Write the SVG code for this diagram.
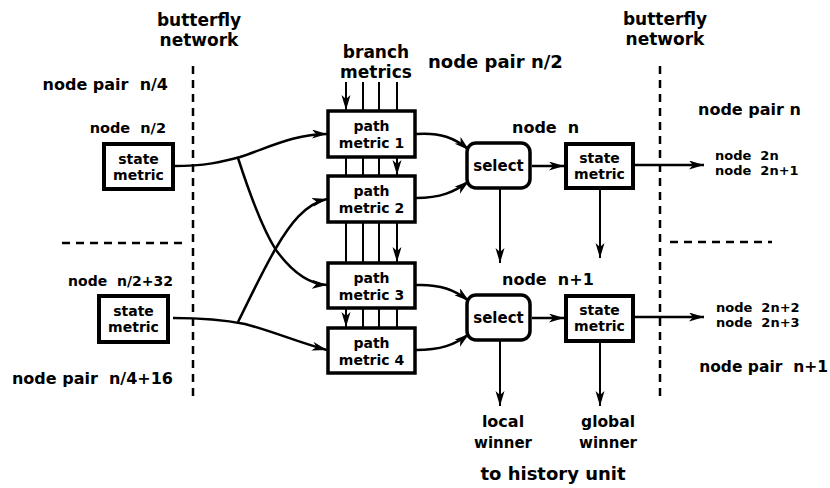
<svg xmlns="http://www.w3.org/2000/svg" width="830" height="488" viewBox="0 0 830 488">
<style>
text{font-family:"DejaVu Sans","Liberation Sans",sans-serif;font-weight:bold;fill:#000;white-space:pre}
.big{font-size:18px}
.lbl{font-size:16px}
.sm{font-size:14px}
.bx{font-size:14px;text-anchor:middle}
.sm2{font-size:13px}
.mid{text-anchor:middle}
.end{text-anchor:end}
.sbox{fill:#fff;stroke:#000;stroke-width:4}
.pbox{fill:#fff;stroke:#000;stroke-width:3.5}
.sel{fill:#fff;stroke:#000;stroke-width:3.5}
.c{fill:none;stroke:#000;stroke-width:2.5}
.v{fill:none;stroke:#000;stroke-width:2}
.a{marker-end:url(#ah)}
.dash{fill:none;stroke:#000;stroke-width:2.5;stroke-dasharray:8 6}
</style>
<defs>
<marker id="ah" markerUnits="userSpaceOnUse" markerWidth="16" markerHeight="10" refX="15" refY="4.5" orient="auto">
<path d="M0,0 L15,4.5 L0,9 L4,4.5 z" fill="#000"/>
</marker>
</defs>

<g id="dividers">
<line class="dash" x1="193" y1="66" x2="193" y2="402"/>
<line class="dash" x1="660" y1="66" x2="660" y2="402"/>
<line class="dash" x1="62" y1="243" x2="183" y2="243"/>
<line class="dash" x1="670" y1="242" x2="772" y2="242"/>
</g>

<g id="labels">
<text class="big mid" x="199" y="26" style="font-size:17px">butterfly</text>
<text class="big mid" x="199" y="46" style="font-size:17px">network</text>
<text class="big mid" x="665" y="25" style="font-size:17px">butterfly</text>
<text class="big mid" x="665" y="45" style="font-size:17px">network</text>
<text xml:space="preserve" class="lbl end" x="168" y="90">node pair  n/4</text>
<text xml:space="preserve" class="sm end" x="166" y="133" style="font-size:14.5px">node  n/2</text>
<text xml:space="preserve" class="sm end" x="173" y="286">node  n/2+32</text>
<text xml:space="preserve" class="lbl end" x="173" y="384">node pair  n/4+16</text>
<text class="mid" x="376" y="58" style="font-size:17px">branch</text>
<text class="mid" x="376" y="78" style="font-size:17px">metrics</text>
<text class="big" x="428" y="68">node pair n/2</text>
<text xml:space="preserve" class="lbl" x="512" y="133">node  n</text>
<text xml:space="preserve" class="lbl" x="502" y="285">node  n+1</text>
<text class="lbl" x="698" y="115">node pair n</text>
<text xml:space="preserve" class="sm2" x="715" y="160">node  2n</text>
<text xml:space="preserve" class="sm2" x="715" y="175">node  2n+1</text>
<text xml:space="preserve" class="sm2" x="716" y="312">node  2n+2</text>
<text xml:space="preserve" class="sm2" x="716" y="327">node  2n+3</text>
<text xml:space="preserve" class="lbl end" x="828" y="372" style="font-size:15.5px">node pair  n+1</text>
<text class="mid" x="503" y="427" style="font-size:16px">local</text>
<text class="mid" x="503" y="448" style="font-size:15px">winner</text>
<text class="mid" x="608" y="427" style="font-size:15.5px">global</text>
<text class="mid" x="608" y="448" style="font-size:15px">winner</text>
<text class="mid" x="553" y="480" style="font-size:18px">to history unit</text>
</g>

<g id="connectors">
<path class="v a" d="M346,82 L346,110"/>
<path class="v" d="M363,82 L363,111"/>
<path class="v" d="M379,82 L379,111"/>
<path class="v" d="M397,82 L397,111"/>
<path class="v" d="M346,157 L346,176"/>
<path class="v" d="M363,157 L363,176"/>
<path class="v" d="M379,157 L379,176"/>
<path class="v a" d="M397,157 L397,175"/>
<path class="v" d="M346,222 L346,263"/>
<path class="v" d="M363,222 L363,263"/>
<path class="v" d="M379,222 L379,263"/>
<path class="v a" d="M397,222 L397,262"/>
<path class="v a" d="M346,308 L346,327"/>
<path class="v" d="M363,308 L363,328"/>
<path class="v" d="M379,308 L379,328"/>
<path class="v" d="M397,308 L397,328"/>
<path class="c a" d="M174,166 C205,166 222,162 240,157 C270,147 295,134 327,134"/>
<path class="c a" d="M238,158 C250,195 262,228 276,250 C292,272 308,284 327,285"/>
<path class="c a" d="M173,318 C205,318 225,320 245,324 C275,332 300,343 327,350"/>
<path class="c a" d="M238,322 C250,298 262,272 276,248 C290,224 305,204 327,199"/>
<path class="c a" d="M416,134 C440,132 455,138 469,150"/>
<path class="c a" d="M416,198 C440,198 455,192 469,181"/>
<path class="c a" d="M416,285 C440,284 455,290 469,301"/>
<path class="c a" d="M416,350 C440,350 455,345 469,334"/>
<path class="c a" d="M532,166 L564,166"/>
<path class="c a" d="M532,318 L564,318"/>
<path class="v a" d="M500,189 L500,263"/>
<path class="v a" d="M600,190 L600,258"/>
<path class="v a" d="M500,341 L500,406"/>
<path class="v a" d="M600,342 L600,406"/>
<path class="c a" d="M635,165 L704,165"/>
<path class="c a" d="M635,317 L704,317"/>
</g>

<g id="sm_left1">
<rect class="sbox" x="104" y="144" width="69" height="45"/>
<text class="bx" x="138.5" y="164">state</text>
<text class="bx" x="138.5" y="180">metric</text>
</g>
<g id="sm_left2">
<rect class="sbox" x="99" y="296" width="69" height="46"/>
<text class="bx" x="133.5" y="316">state</text>
<text class="bx" x="133.5" y="332">metric</text>
</g>
<g id="pm1">
<rect class="pbox" x="328" y="111" width="87" height="46"/>
<text class="bx" x="371.5" y="131">path</text>
<text class="bx" x="371.5" y="148">metric 1</text>
</g>
<g id="pm2">
<rect class="pbox" x="328" y="176" width="87" height="46"/>
<text class="bx" x="371.5" y="196">path</text>
<text class="bx" x="371.5" y="213">metric 2</text>
</g>
<g id="pm3">
<rect class="pbox" x="328" y="263" width="87" height="45"/>
<text class="bx" x="371.5" y="283">path</text>
<text class="bx" x="371.5" y="300">metric 3</text>
</g>
<g id="pm4">
<rect class="pbox" x="328" y="328" width="87" height="45"/>
<text class="bx" x="371.5" y="348">path</text>
<text class="bx" x="371.5" y="365">metric 4</text>
</g>
<g id="select1">
<rect class="sel" x="467" y="143" width="63" height="45" rx="9"/>
<text class="bx" x="498.5" y="171" style="font-size:15px">select</text>
</g>
<g id="select2">
<rect class="sel" x="467" y="295" width="63" height="45" rx="9"/>
<text class="bx" x="498.5" y="323" style="font-size:15px">select</text>
</g>
<g id="sm_n">
<rect class="sbox" x="566" y="144" width="67" height="44"/>
<text class="bx" x="599.5" y="163">state</text>
<text class="bx" x="599.5" y="179">metric</text>
</g>
<g id="sm_n1">
<rect class="sbox" x="566" y="296" width="67" height="45"/>
<text class="bx" x="599.5" y="315">state</text>
<text class="bx" x="599.5" y="331">metric</text>
</g>
</svg>
